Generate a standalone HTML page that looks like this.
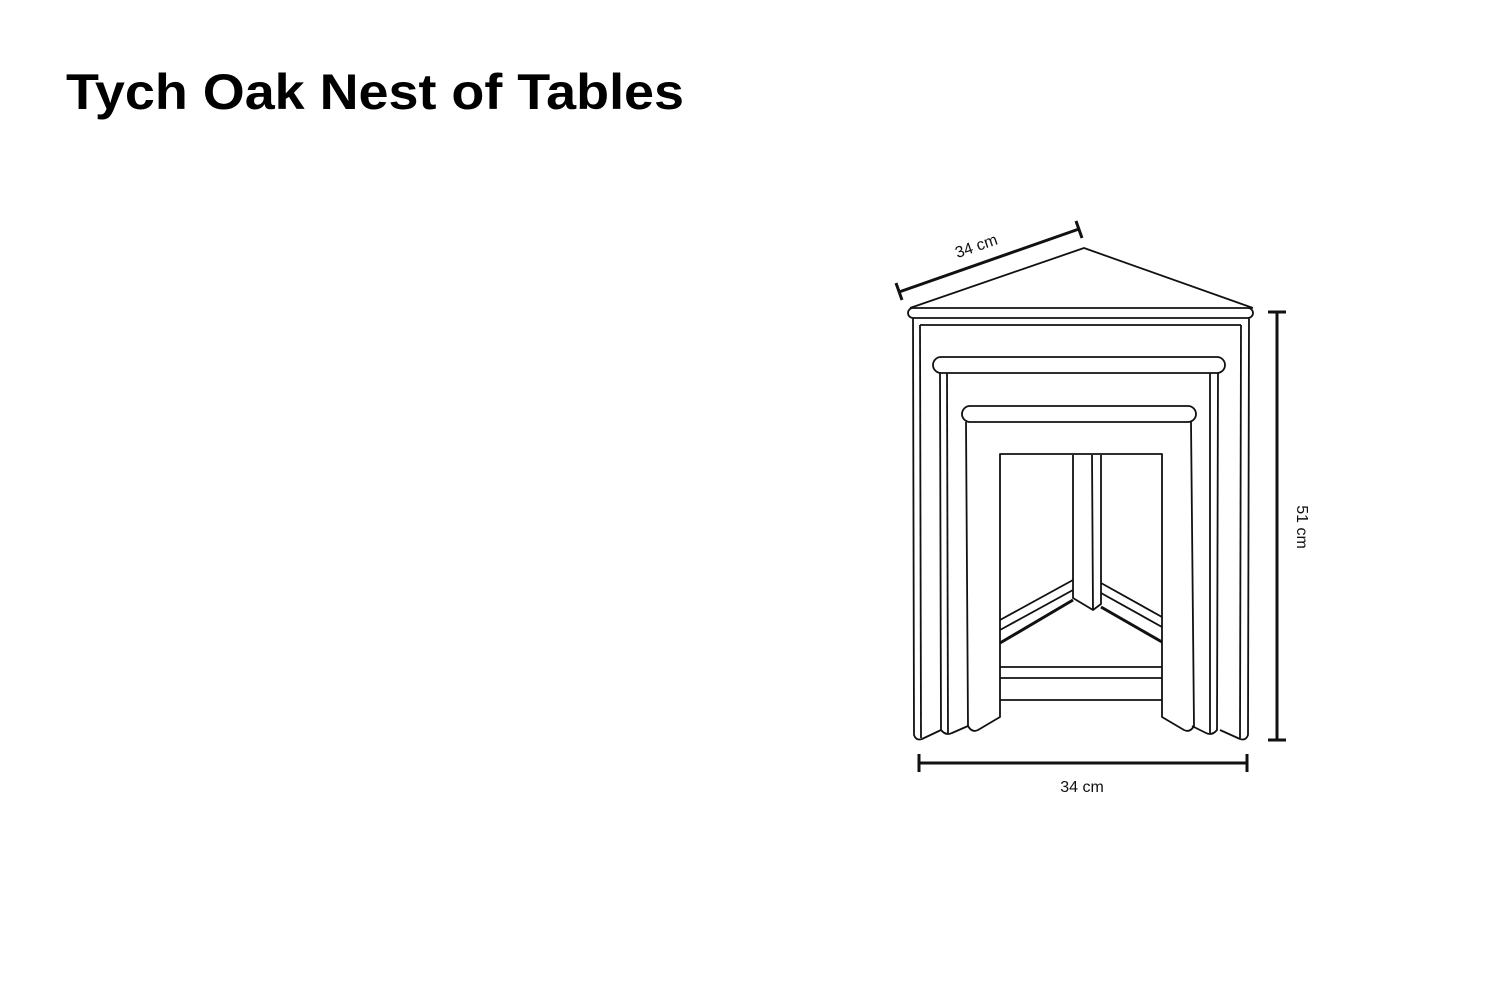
<!DOCTYPE html>
<html><head><meta charset="utf-8"><style>
html,body{margin:0;padding:0;background:#fff;width:1500px;height:1000px;overflow:hidden}
svg{display:block}
</style></head><body>
<svg width="1500" height="1000" viewBox="0 0 1500 1000" xmlns="http://www.w3.org/2000/svg">
<text x="66" y="109" font-family="Liberation Sans, sans-serif" font-weight="bold" font-size="50" textLength="618" lengthAdjust="spacingAndGlyphs" fill="#000">Tych Oak Nest of Tables</text>
<g fill="none" stroke="#111" stroke-width="1.8" stroke-linejoin="round">
<!-- top triangle -->
<path d="M910 308 L1084 248 L1253 308"/>
<rect x="908" y="308" width="345" height="10" rx="5" fill="#fff"/>
<!-- outer legs -->
<path d="M913 318 L914 735 Q916 741 922 739 L941 730"/>
<path d="M1249 318 L1248 735 Q1246 741 1240 739 L1220 730"/>
<path d="M920 325 L1241 325"/>
<path d="M920 325 L921 738"/>
<path d="M1241 325 L1240 738"/>
<!-- second table -->
<rect x="933" y="357" width="292" height="16" rx="8" fill="#fff"/>
<path d="M940 373 L941 730 Q946 736 952 733 L968 726"/>
<path d="M947 373 L948 733"/>
<path d="M1218 373 L1217 730 Q1212 736 1206 733 L1192 726"/>
<path d="M1210 373 L1210 733"/>
<!-- third table -->
<rect x="962" y="406" width="234" height="16" rx="8" fill="#fff"/>
<path d="M966 422 L968 726 Q972 733 978 730 L1000 717 L1000 454 L1162 454 L1162 717 L1184 730 Q1190 733 1194 726 L1191 422"/>
<!-- center post -->
<path d="M1073 455 L1073 598 L1093 610 L1101 604 L1101 455"/>
<path d="M1092 455 L1093 610"/>
<!-- braces -->
<path d="M1073 580 L1000 620"/>
<path d="M1073 590 L1000 630"/>
<path d="M1073 600 L1000 643" stroke-width="3"/>
<path d="M1101 583 L1162 617"/>
<path d="M1101 593 L1162 627"/>
<path d="M1101 607 L1162 642" stroke-width="3"/>
<!-- lower stretcher -->
<path d="M1000 667 L1162 667 M1000 678 L1162 678 M1000 700 L1162 700"/>
</g>
<g stroke="#111" stroke-width="3" fill="none">
<path d="M899 292 L1079 229"/>
<path d="M896 283 L902 300 M1076 221 L1082 238"/>
<path d="M1277 312 L1277 740 M1268 312 L1286 312 M1268 740 L1286 740"/>
<path d="M919 763 L1247 763 M919 754 L919 772 M1247 754 L1247 772"/>
</g>
<g font-family="Liberation Sans, sans-serif" font-size="16" fill="#111">
<text x="978" y="251" text-anchor="middle" transform="rotate(-19 978 251)">34 cm</text>
<text x="1297" y="527" text-anchor="middle" transform="rotate(90 1297 527)">51 cm</text>
<text x="1082" y="792" text-anchor="middle">34 cm</text>
</g>
</svg>
</body></html>
